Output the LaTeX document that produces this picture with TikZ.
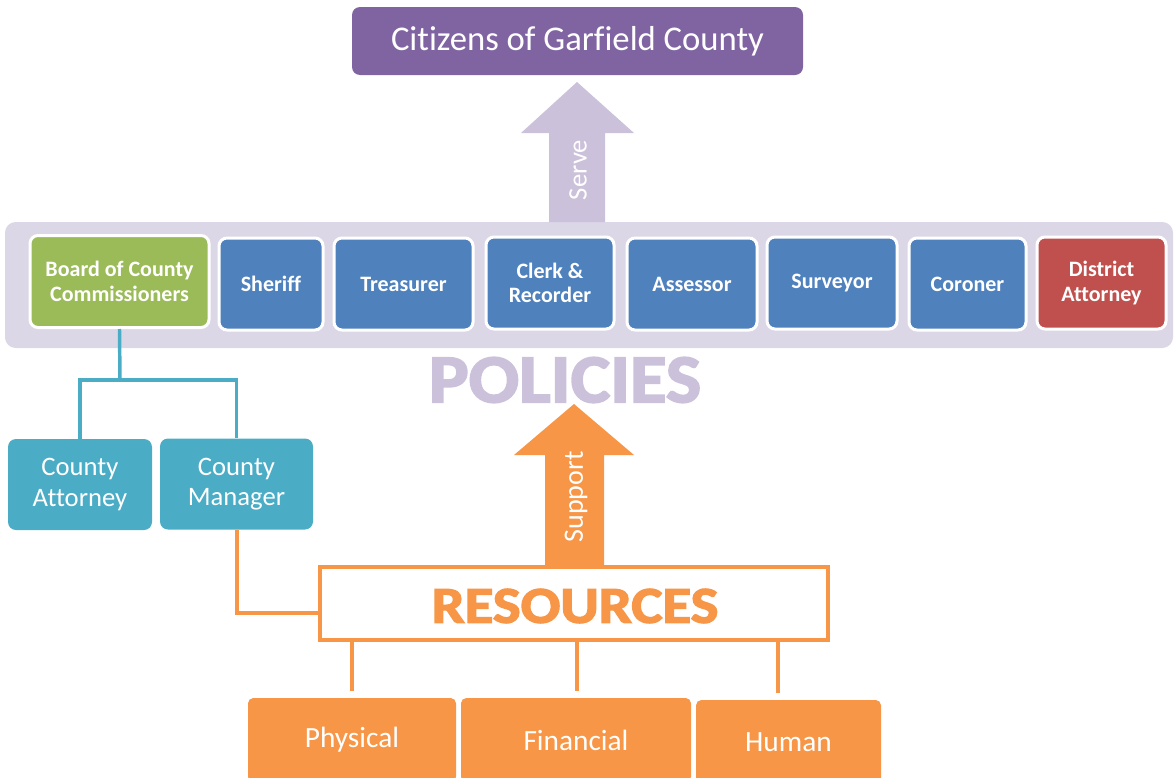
\documentclass[tikz,border=0pt]{standalone}
\usepackage{fontspec}
\setmainfont{Carlito}[Ligatures=NoCommon]
\newfontfamily\heavyfont{Carlito}[BoldFeatures={FakeBold=2.5}]
\newdimen\pxu \pxu=0.75pt
\definecolor{cpurple}{HTML}{8064A2}
\definecolor{clav}{HTML}{CCC1DA}
\definecolor{cband}{HTML}{DCD7E7}
\definecolor{cgreen}{HTML}{9BBB59}
\definecolor{cblue}{HTML}{4F81BD}
\definecolor{cred}{HTML}{C0504D}
\definecolor{cteal}{HTML}{4BACC6}
\definecolor{corange}{HTML}{F79646}
\tikzset{
  base/.style={rounded corners=6pt, text=white, align=center, inner sep=0pt},
  office/.style={base, fill=cblue, draw=white, line width=2.25pt, minimum height=92\pxu,
     font=\fontsize{16.5}{18.5}\selectfont\bfseries},
  staff/.style={base, fill=cteal, minimum height=91\pxu, font=\fontsize{20}{23}\selectfont},
  resbox/.style={base, fill=corange, rounded corners=4pt, minimum height=84\pxu, font=\fontsize{22}{24}\selectfont},
  tealline/.style={draw=cteal, line width=2.6pt},
  orline/.style={draw=corange, line width=3pt},
}
\begin{document}
\begin{tikzpicture}[x=0.75pt,y=-0.75pt]
\useasboundingbox (0,0) rectangle (1175,778);
% citizens
\node[base, fill=cpurple, minimum width=451\pxu, minimum height=68\pxu, font=\fontsize{26}{28}\selectfont] (cit) at (577.5,41) {Citizens of Garfield County};
% policies band
\node[rounded corners=8pt, fill=cband, minimum width=1168\pxu, minimum height=126\pxu, inner sep=0pt] (band) at (589,285) {};
% serve arrow
\fill[clav] (549,222) -- (549,133) -- (521,133) -- (577,82) -- (634,133) -- (605,133) -- (605,222) -- cycle;
\node[rotate=90, text=white, font=\fontsize{20}{22}\selectfont] (serve) at (578,170) {Serve};
% offices
\node[office, fill=cgreen, minimum width=179\pxu] (board) at (119.5,281.5) {Board of County\\Commissioners};
\node[office, minimum width=104\pxu] (sheriff) at (271,284) {Sheriff};
\node[office, minimum width=139\pxu] (treas) at (403.5,284) {Treasurer};
\node[office, minimum width=128\pxu] (clerk) at (550,283) {Clerk \&\\Recorder};
\node[office, minimum width=130\pxu] (assess) at (692,284) {Assessor};
\node[office, minimum width=130\pxu] (survey) at (832,283) {Surveyor};
\node[office, minimum width=117\pxu] (coroner) at (967.5,284) {Coroner};
\node[office, fill=cred, minimum width=129\pxu] (da) at (1101.5,283) {District\\Attorney};
% policies word
\node[text=clav, inner sep=0pt, font=\fontsize{50}{52}\heavyfont\bfseries] (pol) at (565,380) {\scalebox{1.12}[1.03]{POLICIES}};
% staff
\node[staff, minimum width=144\pxu] (ca) at (80,484.5) {County\\Attorney};
\node[staff, minimum width=153\pxu] (cm) at (236.5,484) {County\\Manager};
\coordinate (tj) at (120,380);
\draw[tealline] (board.south) -- (tj);
\draw[tealline] (ca.north) |- (tj) -| (cm.north);
% support arrow
\fill[corange] (545,567) -- (545,455) -- (514,455) -- (574,404) -- (634,455) -- (604,455) -- (604,567) -- cycle;
\node[rotate=90, text=white, font=\fontsize{21}{23}\selectfont] (sup) at (576,497) {Support};
% resources
\node[draw=corange, line width=2.6pt, fill=white, minimum width=508\pxu, minimum height=73\pxu, inner sep=0pt] (res) at (574,603.5) {};
\node[text=corange, inner sep=0pt, font=\fontsize{38}{40}\heavyfont\bfseries] (restxt) at (575,606) {\scalebox{1.16}[1.02]{RESOURCES}};
\coordinate (rj) at (320,613);
\draw[orline] (cm.south) |- (rj);
% resource kinds
\node[resbox, minimum width=208\pxu] (phys) at (352,740) {Physical};
\node[resbox, minimum width=230\pxu] (fin) at (576,740) {Financial};
\node[resbox, minimum width=185\pxu] (hum) at (788.5,742) {Human};
\coordinate (l1) at (352,640);
\coordinate (l2) at (577,640);
\coordinate (l3) at (778,640);
\draw[orline, shorten >=5pt] (l1) -- (l1 |- phys.north);
\draw[orline, shorten >=5pt] (l2) -- (l2 |- fin.north);
\draw[orline, shorten >=5pt] (l3) -- (l3 |- hum.north);
\end{tikzpicture}
\end{document}
